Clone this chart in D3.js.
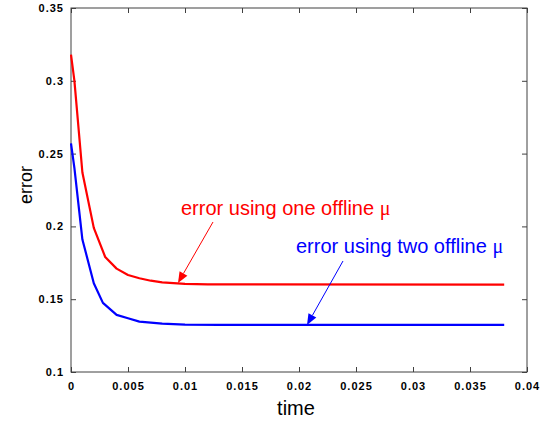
<!DOCTYPE html>
<html><head><meta charset="utf-8">
<script src="https://cdn.jsdelivr.net/npm/d3@7"></script>
<style>body{margin:0;background:#fff}</style>
</head><body>
<svg id="c" width="543" height="423"></svg>
<script>
const timeOne = [0, 0.0003, 0.001, 0.002, 0.003, 0.004, 0.005, 0.006, 0.007, 0.008, 0.009, 0.010, 0.012, 0.038];
const errOne  = [0.318, 0.300, 0.237, 0.199, 0.179, 0.171, 0.1666, 0.1644, 0.1627, 0.1616, 0.161, 0.1605, 0.1602, 0.1600];
const timeTwo = [0, 0.0003, 0.001, 0.002, 0.0028, 0.004, 0.005, 0.006, 0.008, 0.010, 0.013, 0.038];
const errTwo  = [0.257, 0.240, 0.191, 0.161, 0.1475, 0.1392, 0.1369, 0.1346, 0.1332, 0.1326, 0.1323, 0.1323];
const xTicks = [0, 0.005, 0.01, 0.015, 0.02, 0.025, 0.03, 0.035, 0.04];
const xTickLabels = ["0", "0.005", "0.01", "0.015", "0.02", "0.025", "0.03", "0.035", "0.04"];
const yTicks = [0.1, 0.15, 0.2, 0.25, 0.3, 0.35];
const yTickLabels = ["0.1", "0.15", "0.2", "0.25", "0.3", "0.35"];

const svg = d3.select("#c");
const L = 71, R = 527, T = 8, B = 372;
const x = d3.scaleLinear().domain([0, 0.04]).range([L, R]);
const y = d3.scaleLinear().domain([0.1, 0.35]).range([B, T]);
const axisColor = "#404040";
const tickFont = "bold 11px 'Liberation Sans', Arial, sans-serif";

// frame
svg.append("rect").attr("x", L).attr("y", T).attr("width", R - L).attr("height", B - T)
  .attr("fill", "none").attr("stroke", axisColor).attr("stroke-width", 1);

const fmtX = (d, i) => xTickLabels[i];
const fmtY = (d, i) => yTickLabels[i];

const gx = svg.append("g").attr("transform", `translate(0,${B})`)
  .call(d3.axisBottom(x).tickValues(xTicks).tickFormat(fmtX).tickSizeInner(-5).tickSizeOuter(0).tickPadding(10));
const gxt = svg.append("g").attr("transform", `translate(0,${T})`)
  .call(d3.axisTop(x).tickValues(xTicks).tickFormat("").tickSizeInner(-5).tickSizeOuter(0));
const gy = svg.append("g").attr("transform", `translate(${L},0)`)
  .call(d3.axisLeft(y).tickValues(yTicks).tickFormat(fmtY).tickSizeInner(-5).tickSizeOuter(0).tickPadding(7));
const gyr = svg.append("g").attr("transform", `translate(${R},0)`)
  .call(d3.axisRight(y).tickValues(yTicks).tickFormat("").tickSizeInner(-5).tickSizeOuter(0));
[gx, gxt, gy, gyr].forEach(g => {
  g.select(".domain").remove();
  g.selectAll("line").attr("stroke", axisColor);
  g.selectAll("text").attr("fill", "#000").style("font", tickFont).style("letter-spacing", "1px");
});

const line = d3.line().x(d => x(d[0])).y(d => y(d[1]));
svg.append("path").datum(d3.zip(timeOne, errOne)).attr("d", line)
  .attr("fill", "none").attr("stroke", "#ff0000").attr("stroke-width", 2.2).attr("stroke-linejoin", "round");
svg.append("path").datum(d3.zip(timeTwo, errTwo)).attr("d", line)
  .attr("fill", "none").attr("stroke", "#0000ff").attr("stroke-width", 2.2).attr("stroke-linejoin", "round");

// axis labels
svg.append("text").attr("x", 296).attr("y", 415).attr("text-anchor", "middle")
  .style("font", "20px 'Liberation Sans', Arial, sans-serif").text("time");
svg.append("text").attr("transform", `translate(32,185) rotate(-90)`).attr("text-anchor", "middle")
  .style("font", "18px 'Liberation Sans', Arial, sans-serif").text("error");

// annotations
function annot(tx, ty, txt, color, from, to) {
  const t = svg.append("text").attr("x", tx).attr("y", ty).attr("fill", color)
    .style("font", "20px 'Liberation Sans', Arial, sans-serif");
  t.append("tspan").text(txt + " ");
  t.append("tspan").style("font-family", "'Liberation Serif', serif").style("font-size", "20px").text("μ");
  const [x1, y1] = from, [x2, y2] = to;
  const ang = Math.atan2(y2 - y1, x2 - x1);
  const hl = 11, hw = 4.5;
  const bx = x2 - hl * Math.cos(ang), by = y2 - hl * Math.sin(ang);
  svg.append("line").attr("x1", x1).attr("y1", y1).attr("x2", bx).attr("y2", by)
    .attr("stroke", color).attr("stroke-width", 1);
  const px = -Math.sin(ang), py = Math.cos(ang);
  svg.append("path").attr("d", `M${x2},${y2}L${bx + hw * px},${by + hw * py}L${bx - hw * px},${by - hw * py}Z`)
    .attr("fill", color);
}
annot(181, 215, "error using one offline", "#ff0000", [213, 222], [178, 283]);
annot(296, 253, "error using two offline", "#0000ff", [343, 261], [307, 325]);
</script>
</body></html>
